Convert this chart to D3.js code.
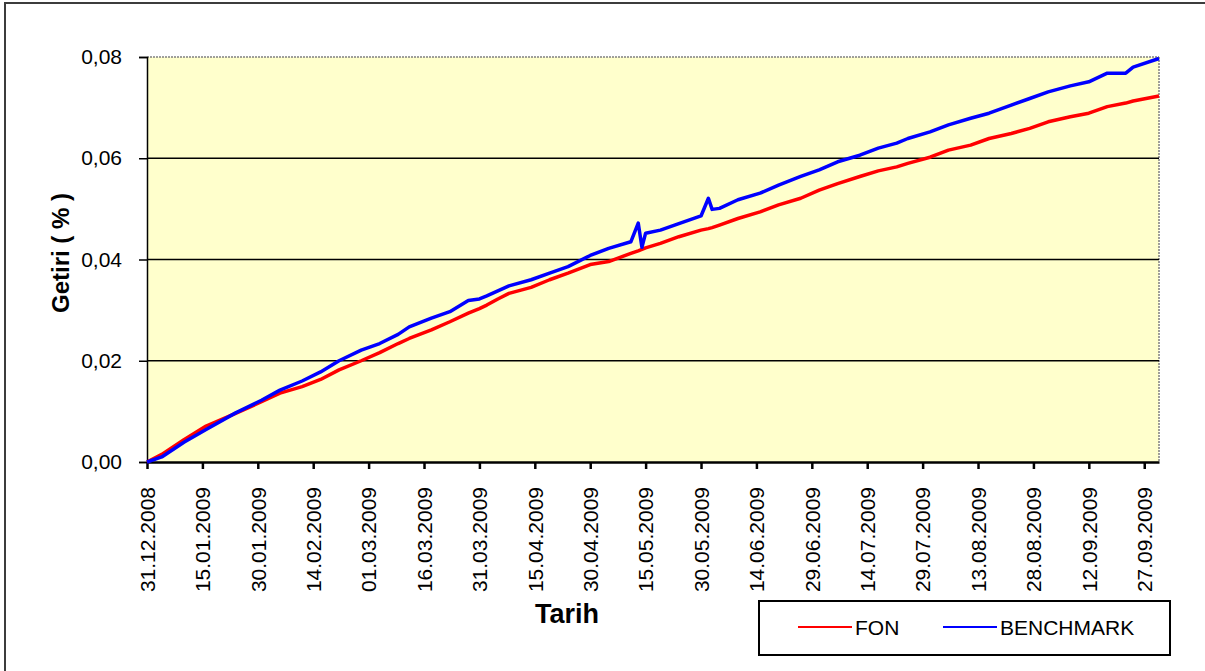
<!DOCTYPE html>
<html>
<head>
<meta charset="utf-8">
<script src="https://cdn.jsdelivr.net/npm/d3@7"></script>
<style>
  body { margin: 0; background: #fff; }
  svg { display: block; font-family: "Liberation Sans", Arial, sans-serif; }
</style>
</head>
<body>
<div id="chart"></div>
<script>
// values (cumulative return)
var dates = ["31.12.2008","04.01.2009","10.01.2009","16.01.2009","24.01.2009","31.01.2009",
  "05.02.2009","11.02.2009","16.02.2009","21.02.2009","27.02.2009","04.03.2009","09.03.2009",
  "12.03.2009","18.03.2009","23.03.2009","28.03.2009","31.03.2009","02.04.2009","05.04.2009",
  "08.04.2009","14.04.2009","19.04.2009","24.04.2009","30.04.2009","05.05.2009","11.05.2009",
  "13.05.2009","14.05.2009","15.05.2009","19.05.2009","24.05.2009","30.05.2009","01.06.2009",
  "02.06.2009","04.06.2009","09.06.2009","15.06.2009","20.06.2009","26.06.2009","01.07.2009",
  "06.07.2009","12.07.2009","17.07.2009","22.07.2009","25.07.2009","31.07.2009","05.08.2009",
  "11.08.2009","16.08.2009","22.08.2009","27.08.2009","01.09.2009","07.09.2009","12.09.2009",
  "17.09.2009","22.09.2009","24.09.2009","01.10.2009"];

var fonValues = [0, 0.0015, 0.0044, 0.0071, 0.0096, 0.0119,
  0.0136, 0.0149, 0.0163, 0.0182, 0.0200, 0.0216, 0.0234,
  0.0244, 0.0261, 0.0277, 0.0294, 0.0303, 0.0310, 0.0322,
  0.0333, 0.0345, 0.0360, 0.0373, 0.0390, 0.0396, 0.0412,
  0.0417, 0.0420, 0.0423, 0.0432, 0.0445, 0.0458, 0.0461,
  0.0463, 0.0468, 0.0481, 0.0494, 0.0508, 0.0521, 0.0537,
  0.0550, 0.0564, 0.0575, 0.0583, 0.0590, 0.0602, 0.0616,
  0.0626, 0.0639, 0.0649, 0.0659, 0.0672, 0.0682, 0.0689,
  0.0702, 0.0709, 0.0713, 0.0723];

var benchmarkValues = [0, 0.0010, 0.0039, 0.0064, 0.0097, 0.0122,
  0.0142, 0.0160, 0.0178, 0.0200, 0.0221, 0.0234, 0.0252,
  0.0267, 0.0284, 0.0297, 0.0319, 0.0322, 0.0328, 0.0338,
  0.0348, 0.0360, 0.0373, 0.0386, 0.0408, 0.0422, 0.0435,
  0.0472, 0.0424, 0.0452, 0.0458, 0.0471, 0.0486, 0.0521,
  0.0499, 0.0501, 0.0518, 0.0531, 0.0547, 0.0564, 0.0577,
  0.0593, 0.0606, 0.0620, 0.0630, 0.0639, 0.0652, 0.0666,
  0.0679, 0.0689, 0.0705, 0.0718, 0.0731, 0.0743, 0.0751,
  0.0768, 0.0768, 0.0780, 0.0797];

var tickLabels = ["31.12.2008","15.01.2009","30.01.2009","14.02.2009","01.03.2009",
  "16.03.2009","31.03.2009","15.04.2009","30.04.2009","15.05.2009","30.05.2009",
  "14.06.2009","29.06.2009","14.07.2009","29.07.2009","13.08.2009","28.08.2009",
  "12.09.2009","27.09.2009"];

var yTicks = [0, 0.02, 0.04, 0.06, 0.08];

var seriesNames = ["FON", "BENCHMARK"];
var seriesColors = ["#ff0000", "#0000ff"];

var W = 1205, H = 671;
var plotLeft = 147, plotRight = 1159, plotTop = 57, plotBottom = 462;

var parse = d3.timeParse("%d.%m.%Y");
var series = [fonValues, benchmarkValues].map(function(vals, k) {
  return {
    name: seriesNames[k],
    color: seriesColors[k],
    points: dates.map(function(d, i) { return { date: parse(d), value: vals[i] }; })
  };
});

var x = d3.scaleTime()
  .domain([parse(dates[0]), parse(dates[dates.length - 1])])
  .range([plotLeft, plotRight]);
var y = d3.scaleLinear().domain([0, 0.08]).range([plotBottom, plotTop]);

var svg = d3.select("#chart").append("svg")
  .attr("width", W).attr("height", H);

// outer chart frame (only left and top visible)
svg.append("rect")
  .attr("x", 5).attr("y", 3)
  .attr("width", W + 20).attr("height", H + 20)
  .attr("fill", "#fff")
  .attr("stroke", "#3c3c3c")
  .attr("stroke-width", 2);

// plot area
svg.append("rect")
  .attr("x", plotLeft).attr("y", plotTop)
  .attr("width", plotRight - plotLeft).attr("height", plotBottom - plotTop)
  .attr("fill", "#ffffcc");
svg.append("line")
  .attr("x1", plotLeft).attr("x2", plotRight).attr("y1", plotTop).attr("y2", plotTop)
  .attr("stroke", "#808080").attr("stroke-width", 1.5).attr("stroke-dasharray", "2,1");
svg.append("line")
  .attr("x1", plotRight).attr("x2", plotRight).attr("y1", plotTop).attr("y2", plotBottom)
  .attr("stroke", "#808080").attr("stroke-width", 1.5).attr("stroke-dasharray", "2,1");

// gridlines
svg.append("g").selectAll("line")
  .data(yTicks.filter(function(t) { return t > 0 && t < 0.08; }))
  .enter().append("line")
  .attr("x1", plotLeft).attr("x2", plotRight)
  .attr("y1", function(d) { return y(d); })
  .attr("y2", function(d) { return y(d); })
  .attr("stroke", "#000").attr("stroke-width", 1.6);

// y axis
var fmt = d3.format(".2f");
var yAxis = svg.append("g")
  .attr("transform", "translate(" + plotLeft + ",0)")
  .call(d3.axisLeft(y).tickValues(yTicks)
    .tickFormat(function(d) { return fmt(d).replace(".", ","); })
    .tickSize(8).tickPadding(17));
yAxis.select(".domain").attr("stroke", "#000").attr("stroke-width", 1.5);
yAxis.selectAll(".tick line").attr("stroke", "#000").attr("stroke-width", 1.5);
yAxis.selectAll("text")
  .attr("font-size", 21).attr("fill", "#000")
  .attr("font-family", "Liberation Sans, Arial, sans-serif");

// x axis
var xAxis = svg.append("g")
  .attr("transform", "translate(0," + plotBottom + ")")
  .call(d3.axisBottom(x).tickValues(tickLabels.map(parse))
    .tickFormat(d3.timeFormat("%d.%m.%Y"))
    .tickSizeInner(7).tickSizeOuter(0).tickPadding(0));
xAxis.select(".domain").attr("stroke", "#000").attr("stroke-width", 2.5);
xAxis.selectAll(".tick line").attr("stroke", "#000").attr("stroke-width", 2.5);
xAxis.selectAll("text")
  .attr("font-size", 21).attr("fill", "#000")
  .attr("font-family", "Liberation Sans, Arial, sans-serif")
  .attr("text-anchor", "end")
  .attr("transform", "rotate(-90)")
  .attr("x", -25).attr("y", 0).attr("dy", "0.35em");

// series lines
var line = d3.line()
  .x(function(d) { return x(d.date); })
  .y(function(d) { return y(d.value); });

svg.append("g").selectAll("path")
  .data(series)
  .enter().append("path")
  .attr("d", function(s) { return line(s.points); })
  .attr("fill", "none")
  .attr("stroke", function(s) { return s.color; })
  .attr("stroke-width", 3.5)
  .attr("stroke-linejoin", "round");

// axis titles
svg.append("text")
  .attr("transform", "translate(69,253) rotate(-90)")
  .attr("text-anchor", "middle")
  .attr("font-size", 24).attr("font-weight", "bold")
  .text("Getiri ( % )");
svg.append("text")
  .attr("x", 567).attr("y", 623)
  .attr("text-anchor", "middle")
  .attr("font-size", 27).attr("font-weight", "bold")
  .text("Tarih");

// legend
var legend = svg.append("g");
legend.append("rect")
  .attr("x", 759).attr("y", 601)
  .attr("width", 411).attr("height", 54)
  .attr("fill", "#fff").attr("stroke", "#000").attr("stroke-width", 2);
var legendX = [798, 943];
var item = legend.selectAll("g.item")
  .data(series)
  .enter().append("g")
  .attr("class", "item")
  .attr("transform", function(s, i) { return "translate(" + legendX[i] + ",627)"; });
item.append("line")
  .attr("x1", 0).attr("x2", 54)
  .attr("stroke", function(s) { return s.color; })
  .attr("stroke-width", 2);
item.append("text")
  .attr("x", 57).attr("dy", "0.36em")
  .attr("font-size", 21)
  .text(function(s) { return s.name; });
</script>
</body>
</html>
